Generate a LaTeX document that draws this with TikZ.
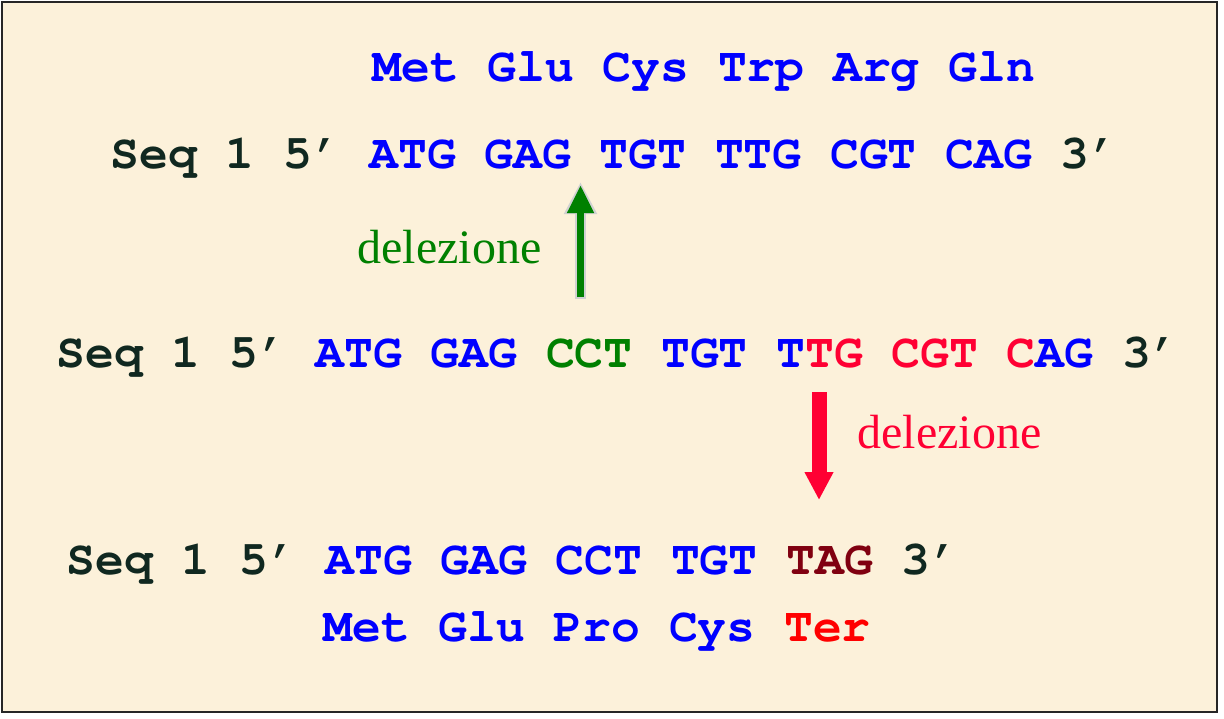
\documentclass[tikz,border=0pt]{standalone}
\usepackage[T1]{fontenc}
\usepackage{fontspec}
\setmainfont{Liberation Serif}
\usepackage{xcolor}
\usetikzlibrary{positioning,arrows.meta}

\definecolor{bgcream}{RGB}{252,241,218}
\definecolor{seqdark}{RGB}{16,40,32}
\definecolor{baseblue}{RGB}{0,0,255}
\definecolor{delgreen}{RGB}{0,128,0}
\definecolor{delred}{RGB}{255,0,51}
\definecolor{stopred}{RGB}{128,0,16}
\definecolor{terred}{RGB}{255,0,0}

% bold Courier for the sequences
\newcommand{\seqfont}{\fontencoding{T1}\fontfamily{pcr}\fontseries{b}\fontshape{n}%
  \fontsize{24}{28}\selectfont}

\begin{document}
\begin{tikzpicture}[
  x=0.5pt, y=-0.5pt,
  seq/.style={anchor=base west, inner sep=0pt, text=seqdark, font=\seqfont},
  prot/.style={seq, text=baseblue},
  lbl/.style={anchor=base west, inner sep=0pt,
    font=\fontsize{24}{28}\selectfont},
  halo/.style={draw=black!18, line width=5.5pt,
    -{Triangle[width=15.5pt, length=16pt]}, shorten >=-1.5pt, shorten <=-1pt},
  uparrow/.style={draw=delgreen, line width=3.5pt,
    -{Triangle[width=12.5pt, length=14pt]}},
  downarrow/.style={draw=delred, line width=7.5pt,
    -{Triangle[width=13.5pt, length=14pt]}}
]
\useasboundingbox (0,0) rectangle (1224,718);
\draw[line width=1pt, draw=black!85, fill=bgcream] (2,2) rectangle (1217,712);

% ------------------------------------------------------------
% Original sequence
% ------------------------------------------------------------
\node[prot] (protA) at (372,81) {Met Glu Cys Trp Arg Gln};
\node[seq]  (seqA)  at (110,168)
  {Seq 1 5' \textcolor{baseblue}{ATG GAG TGT TTG CGT CAG} 3'};

% ------------------------------------------------------------
% Sequence with insertion
% ------------------------------------------------------------
\node[seq] (seqB) at (56,367)
  {Seq 1 5' \textcolor{baseblue}{ATG GAG} \textcolor{delgreen}{CCT}
   \textcolor{baseblue}{TGT T}\textcolor{delred}{TG CGT C}\textcolor{baseblue}{AG} 3'};

% ------------------------------------------------------------
% Truncated sequence
% ------------------------------------------------------------
\node[seq]  (seqC)  at (66,574)
  {Seq 1 5' \textcolor{baseblue}{ATG GAG CCT TGT} \textcolor{stopred}{TAG} 3'};
\node[prot] (protC) at (323,641) {Met Glu Pro Cys \textcolor{terred}{Ter}};

% deletion arrows
\coordinate (gbot) at (580.5,297);
\coordinate (gtop) at (580.5,185);
\draw[halo]    (gbot) -- (gtop);
\draw[uparrow] (gbot) -- (gtop);
\node[lbl, text=delgreen] (delA) at (357,263) {delezione};

\coordinate (rtop) at (819,392);
\coordinate (rbot) at (819,500);
\draw[downarrow] (rtop) -- (rbot);
\node[lbl, text=delred] (delB) at (857,448) {delezione};

\end{tikzpicture}
\end{document}
